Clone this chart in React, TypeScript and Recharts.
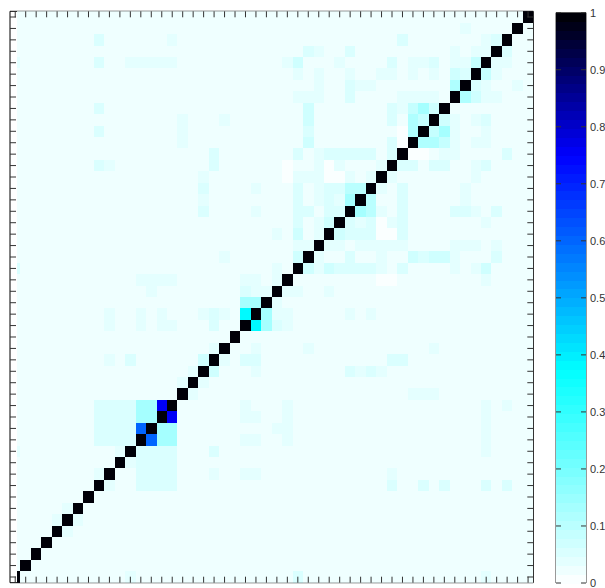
import React from 'react';
import { ScatterChart, Scatter, XAxis, YAxis } from 'recharts';

// correlation matrix, 50 variables, row 0 at the bottom
const N_VARS = 50;
const BASE_VALUE = 0.022;

// [row, col, value], mirrored across the diagonal
const STRONG_PAIRS: [number, number, number][] = [
  [15, 14, 0.75], [13, 12, 0.6], [23, 22, 0.38],
  [14, 12, 0.14], [15, 12, 0.14], [14, 13, 0.14], [15, 13, 0.14],
  [24, 22, 0.14], [24, 23, 0.14],
  [33, 32, 0.14], [34, 32, 0.1], [34, 33, 0.1],
  [41, 39, 0.13], [40, 38, 0.12], [39, 38, 0.12], [41, 40, 0.07], [40, 39, 0.08], [41, 38, 0.08],
  [43, 42, 0.12],
];

const WEAK_PAIRS: [number, number, number][] = [
  [48, 43, 0.04],
  [47, 8, 0.05], [47, 15, 0.04], [47, 37, 0.05], [47, 45, 0.04], [47, 46, 0.06],
  [46, 28, 0.06], [46, 29, 0.04], [46, 32, 0.06], [46, 42, 0.035], [46, 44, 0.04], [46, 45, 0.04],
  [45, 0, 0.04], [45, 8, 0.05], [45, 11, 0.035], [45, 12, 0.035], [45, 13, 0.035], [45, 14, 0.035],
  [45, 15, 0.035], [45, 26, 0.04], [45, 27, 0.065], [45, 31, 0.04], [45, 36, 0.05], [45, 38, 0.04],
  [45, 39, 0.04], [45, 40, 0.06], [45, 42, 0.04], [45, 43, 0.04], [45, 44, 0.08],
  [44, 27, 0.04], [44, 29, 0.04], [44, 32, 0.04], [44, 35, 0.04], [44, 36, 0.04], [44, 38, 0.035],
  [44, 40, 0.04], [44, 42, 0.065], [44, 43, 0.05],
  [43, 29, 0.04], [43, 32, 0.05], [43, 33, 0.04], [43, 34, 0.04],
  [42, 27, 0.035], [42, 28, 0.035], [42, 29, 0.035], [42, 32, 0.05], [42, 37, 0.035], [42, 38, 0.035],
  [42, 39, 0.035], [42, 40, 0.035],
  [41, 8, 0.06], [41, 28, 0.07], [41, 36, 0.06], [41, 37, 0.04],
  [40, 16, 0.035], [40, 20, 0.04], [40, 28, 0.07], [40, 36, 0.06],
  [39, 8, 0.06], [39, 16, 0.035], [39, 28, 0.05],
  [38, 16, 0.035], [38, 28, 0.07], [38, 36, 0.06],
  [37, 19, 0.05], [37, 27, 0.055], [37, 29, 0.035], [37, 30, 0.05], [37, 31, 0.05], [37, 32, 0.05],
  [37, 33, 0.05], [37, 34, 0.05], [37, 36, 0.05],
  [36, 8, 0.05], [36, 9, 0.04], [36, 19, 0.06], [36, 29, 0.035], [36, 31, 0.04], [36, 35, 0.04],
  [35, 18, 0.04], [35, 27, 0.04], [35, 28, 0.04], [35, 29, 0.04], [35, 32, 0.04], [35, 34, 0.035],
  [34, 18, 0.05], [34, 23, 0.04], [34, 27, 0.05], [34, 29, 0.04], [34, 30, 0.06], [34, 31, 0.06],
  [33, 18, 0.04], [33, 27, 0.05], [33, 29, 0.04], [33, 30, 0.05], [33, 31, 0.04],
  [32, 18, 0.05], [32, 23, 0.04], [32, 27, 0.06], [32, 28, 0.06], [32, 30, 0.06], [32, 31, 0.06],
  [31, 27, 0.05], [31, 29, 0.04], [31, 30, 0.07],
  [30, 25, 0.04], [30, 27, 0.07], [30, 29, 0.04],
  [29, 27, 0.04], [29, 28, 0.04],
  [28, 20, 0.04], [28, 27, 0.07],
  [27, 0, 0.05], [27, 25, 0.04],
  [26, 12, 0.04], [26, 13, 0.04], [26, 14, 0.04], [26, 15, 0.04], [26, 22, 0.04], [26, 23, 0.04], [26, 25, 0.04],
  [25, 13, 0.04], [25, 22, 0.05], [25, 23, 0.045], [25, 24, 0.04],
  [23, 9, 0.04], [23, 12, 0.04], [23, 14, 0.04], [23, 18, 0.04], [23, 19, 0.05], [23, 20, 0.04],
  [22, 9, 0.04], [22, 12, 0.04], [22, 14, 0.04], [22, 15, 0.04], [22, 19, 0.05],
  [20, 19, 0.035],
  [19, 9, 0.04], [19, 11, 0.05], [19, 18, 0.065],
  [18, 17, 0.04], [17, 16, 0.045],
  [16, 38, 0.04], [16, 39, 0.04], [16, 40, 0.04],
  [11, 0, 0.045], [11, 10, 0.04], [9, 8, 0.04], [6, 5, 0.04], [5, 4, 0.04],
];

// rectangular patches [rowFrom, rowTo, colFrom, colTo, value]
const BLOCKS: [number, number, number, number, number][] = [
  [12, 15, 8, 11, 0.05],
];

// cells that show up pure white
const WHITE_PAIRS: [number, number][] = [
  [36, 26], [36, 30], [35, 30], [35, 31], [35, 26], [38, 37], [39, 37],
];

const COLORBAR_TICKS = [0, 0.1, 0.2, 0.3, 0.4, 0.5, 0.6, 0.7, 0.8, 0.9, 1];
const COLOR_STEPS = 64;

const COLOR_STOPS: [number, number[]][] = [
  [0, [255, 255, 255]],
  [0.375, [0, 255, 255]],
  [0.75, [0, 0, 255]],
  [1, [0, 0, 0]],
];

const rawColor = (v: number) => {
  for (let i = 1; i < COLOR_STOPS.length; i++) {
    const [p1, c1] = COLOR_STOPS[i];
    const [p0, c0] = COLOR_STOPS[i - 1];
    if (v <= p1) {
      const t = (v - p0) / (p1 - p0);
      const c = c0.map((a, k) => Math.round(a + (c1[k] - a) * t));
      return `rgb(${c[0]},${c[1]},${c[2]})`;
    }
  }
  return 'rgb(0,0,0)';
};

// matlab style: 64 discrete colours
const colorFor = (v: number) => {
  const idx = Math.max(0, Math.min(COLOR_STEPS - 1, Math.floor(v * COLOR_STEPS)));
  return rawColor((idx + 0.5) / COLOR_STEPS);
};

const buildMatrix = () => {
  const m: number[][] = [];
  for (let r = 0; r < N_VARS; r++) {
    m.push(new Array(N_VARS).fill(BASE_VALUE));
    m[r][r] = 1;
  }
  const set = (i: number, j: number, v: number) => {
    m[i][j] = v;
    m[j][i] = v;
  };
  BLOCKS.forEach(([r0, r1, c0, c1, v]) => {
    for (let r = r0; r <= r1; r++) for (let c = c0; c <= c1; c++) set(r, c, v);
  });
  WEAK_PAIRS.forEach(([i, j, v]) => set(i, j, v));
  STRONG_PAIRS.forEach(([i, j, v]) => set(i, j, v));
  WHITE_PAIRS.forEach(([i, j]) => set(i, j, 0));
  return m;
};

const matrix = buildMatrix();
const cells: { x: number; y: number; v: number }[] = [];
matrix.forEach((row, r) => row.forEach((v, c) => cells.push({ x: c, y: r, v })));

const AXIS_TICKS = matrix.map((_, i) => i);

const colorBands = Array.from({ length: COLOR_STEPS }, (_, i) => ({
  x: 0,
  y: (i + 0.5) / COLOR_STEPS,
  v: (i + 0.5) / COLOR_STEPS,
}));

// layout
const CHART_W = 545;
const CHART_H = 588;
const AXIS_LEFT = 10;
const AXIS_RIGHT = 11.7;
const AXIS_TOP = 11.3;
const AXIS_BOTTOM = 5.3;
const CELL_W = (CHART_W - AXIS_LEFT - AXIS_RIGHT) / N_VARS;
const CELL_H = (CHART_H - AXIS_TOP - AXIS_BOTTOM) / N_VARS;
const FIRST_COL_VISIBLE = 0.36; // first column is clipped in the original
const TICK_LEN = 6;

// colorbar chart sits at x=546 and is 80 px wide (the page clips it at 605)
const BAR_CHART_X = 546;
const BAR_LEFT = 10;
const BAR_W = 30;
const BAR_H = 588 - 12.7 - 5;

const renderCell = (props: any) => {
  const { cx, cy, payload } = props;
  let x = cx - CELL_W / 2;
  let w = CELL_W;
  if (payload.x === 0) {
    w = CELL_W * FIRST_COL_VISIBLE;
    x = cx + CELL_W / 2 - w;
  }
  return (
    <rect
      x={x}
      y={cy - CELL_H / 2}
      width={w}
      height={CELL_H}
      fill={colorFor(payload.v)}
      shapeRendering="crispEdges"
    />
  );
};

const renderBand = (props: any) => {
  const { cx, cy, payload } = props;
  const h = BAR_H / COLOR_STEPS;
  return (
    <rect
      x={cx - BAR_W / 2}
      y={cy - h / 2}
      width={BAR_W}
      height={h + 0.5}
      fill={colorFor(payload.v)}
      shapeRendering="crispEdges"
    />
  );
};

// inward tick marks, drawn by hand
const inwardTick = (dx: number, dy: number, len: number) => (props: any) => {
  const { x, y } = props;
  return (
    <line
      x1={x}
      y1={y}
      x2={x + dx * len}
      y2={y + dy * len}
      stroke="#333"
      strokeWidth={1}
    />
  );
};

// colorbar ticks on both edges of the bar, label to the right
const barTicks = (props: any) => {
  const { x, y, payload } = props;
  return (
    <g>
      <line x1={x} y1={y} x2={x + 5} y2={y} stroke="#333" strokeWidth={1} />
      <line x1={x + BAR_W} y1={y} x2={x + BAR_W - 5} y2={y} stroke="#333" strokeWidth={1} />
      <text x={x + BAR_W + 4} y={y + 4} fontSize={11} fill="#333" textAnchor="start">
        {String(payload.value)}
      </text>
    </g>
  );
};

const noTick = () => <g />;

const common = {
  type: 'number' as const,
  domain: [-0.5, N_VARS - 0.5],
  ticks: AXIS_TICKS,
  interval: 0 as const,
  tickSize: 0,
  tickMargin: 0,
  tickLine: false,
  allowDataOverflow: true,
  axisLine: { stroke: '#000' },
};

const Heatmap = () => (
  <ScatterChart width={CHART_W} height={CHART_H} margin={{ top: 0, right: 0, bottom: 0, left: 0 }}>
    <Scatter
      data={cells}
      xAxisId="b"
      yAxisId="l"
      shape={renderCell}
      isAnimationActive={false}
    />
    <XAxis xAxisId="b" dataKey="x" orientation="bottom" height={AXIS_BOTTOM} tick={inwardTick(0, -1, TICK_LEN)} {...common} />
    <XAxis xAxisId="t" dataKey="x" orientation="top" height={AXIS_TOP} tick={inwardTick(0, 1, TICK_LEN)} {...common} />
    <YAxis yAxisId="l" dataKey="y" orientation="left" width={AXIS_LEFT} tick={inwardTick(1, 0, TICK_LEN)} {...common} />
    <YAxis yAxisId="r" dataKey="y" orientation="right" width={AXIS_RIGHT} tick={inwardTick(-1, 0, TICK_LEN)} {...common} />
  </ScatterChart>
);

const ColorBar = () => (
  <ScatterChart width={80} height={588} margin={{ top: 0, right: 0, bottom: 0, left: 0 }}>
    <Scatter
      data={colorBands}
      xAxisId="b"
      yAxisId="l"
      shape={renderBand}
      isAnimationActive={false}
    />
    <XAxis xAxisId="b" dataKey="x" type="number" domain={[-0.5, 0.5]} orientation="bottom" height={5} ticks={[0]} tick={noTick} tickLine={false} axisLine={{ stroke: '#333' }} />
    <XAxis xAxisId="t" dataKey="x" type="number" domain={[-0.5, 0.5]} orientation="top" height={12.7} ticks={[0]} tick={noTick} tickLine={false} axisLine={{ stroke: '#333' }} />
    <YAxis
      yAxisId="l"
      dataKey="y"
      type="number"
      domain={[0, 1]}
      orientation="left"
      width={BAR_LEFT}
      ticks={COLORBAR_TICKS}
      interval={0}
      tickSize={0}
      tickMargin={0}
      tickLine={false}
      tick={barTicks}
      axisLine={{ stroke: '#333' }}
    />
    <YAxis
      yAxisId="r"
      dataKey="y"
      type="number"
      domain={[0, 1]}
      orientation="right"
      width={80 - BAR_LEFT - BAR_W}
      ticks={COLORBAR_TICKS}
      tick={noTick}
      tickLine={false}
      axisLine={{ stroke: '#333' }}
    />
  </ScatterChart>
);

export default function App() {
  return (
    <div
      style={{
        position: 'absolute',
        left: 0,
        top: 0,
        width: 605,
        height: 588,
        overflow: 'hidden',
        background: '#fff',
        fontFamily: '"Liberation Sans", Arial, sans-serif',
      }}
    >
      <div style={{ position: 'absolute', left: 0, top: 0 }}>
        <Heatmap />
      </div>
      <div style={{ position: 'absolute', left: BAR_CHART_X, top: 0 }}>
        <ColorBar />
      </div>
    </div>
  );
}
